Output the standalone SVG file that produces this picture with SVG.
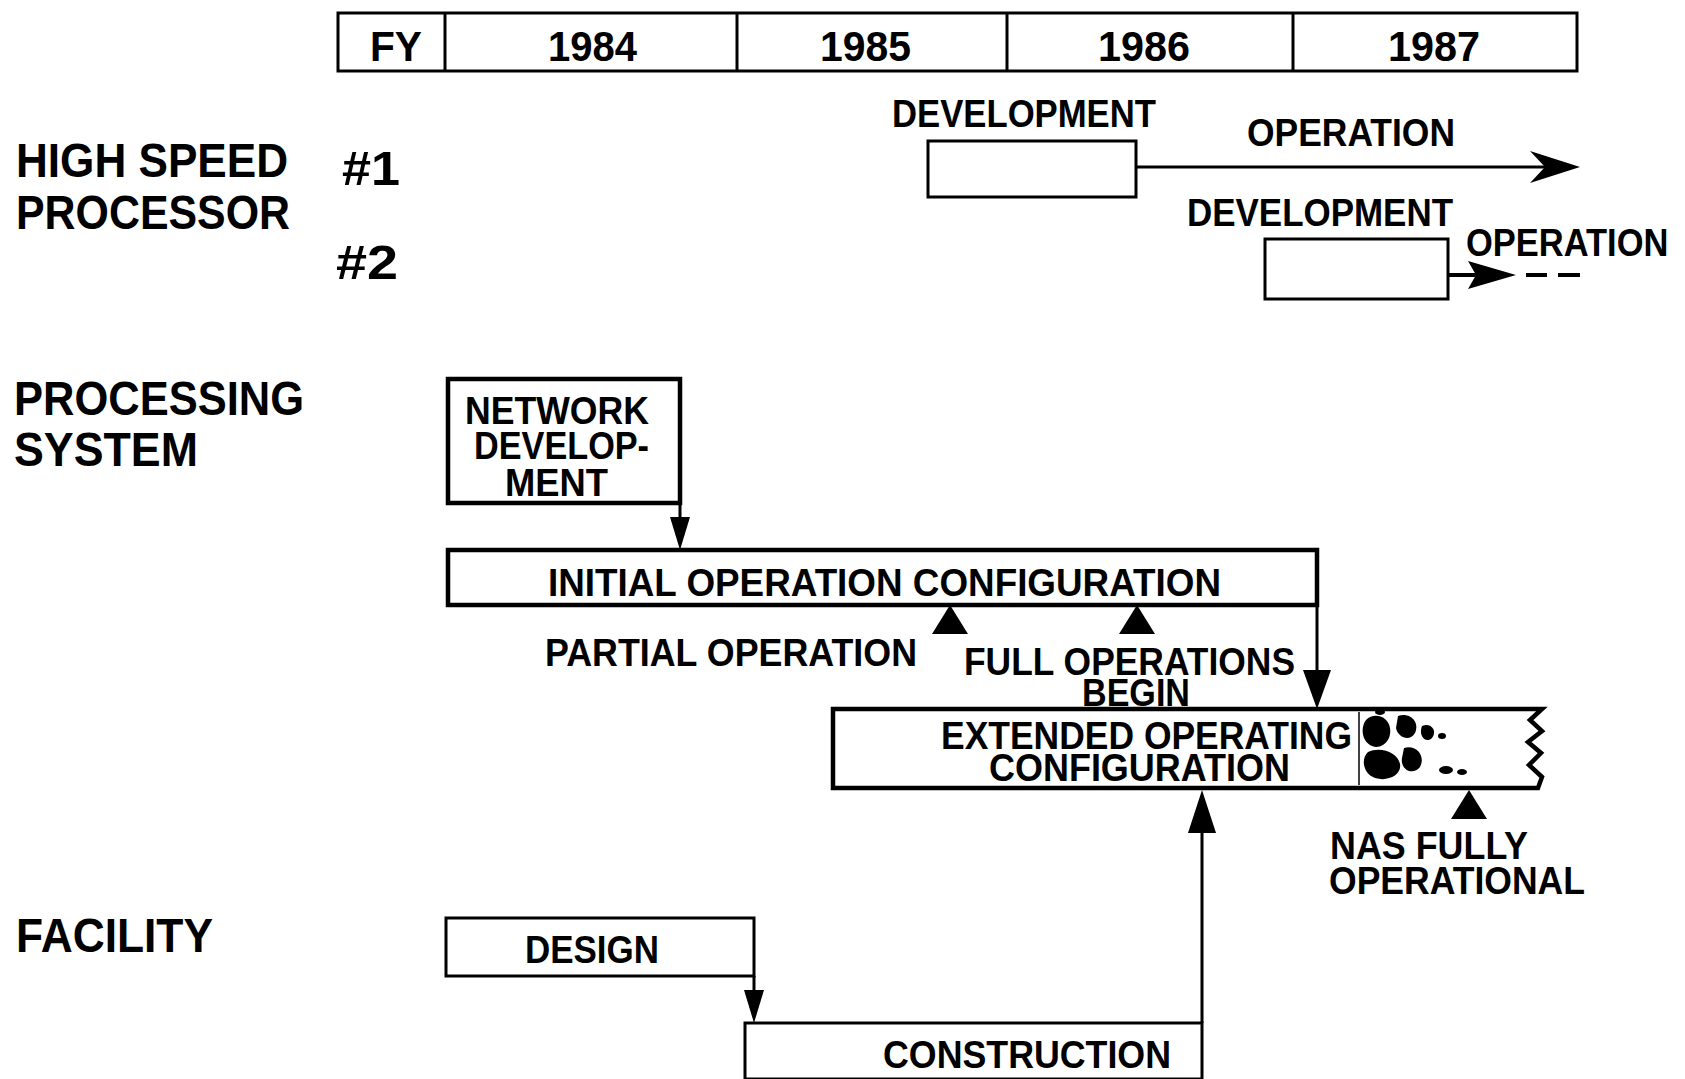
<svg xmlns="http://www.w3.org/2000/svg" width="1685" height="1079" viewBox="0 0 1685 1079">
  <style>
    .bg { fill: #ffffff; }
    .box { fill: #ffffff; stroke: #000; stroke-width: 3; }
    .thick { fill: #ffffff; stroke: #000; stroke-width: 4.5; }
    .line { fill: none; stroke: #000; stroke-width: 3; }
    .head { fill: #000; stroke: none; }
    .t { font-family: "Liberation Sans", Arial, sans-serif; font-weight: bold; fill: #000; }
    .row { font-size: 49px; }
    .lab { font-size: 39px; }
    .yr { font-size: 43px; }
  </style>
  <rect class="bg" x="0" y="0" width="1685" height="1079"/>

  <!-- fiscal-year header -->
  <g id="fy-header">
    <rect class="box" x="338" y="13" width="1239" height="58"/>
    <line class="line" x1="445" y1="13" x2="445" y2="71"/>
    <line class="line" x1="737" y1="13" x2="737" y2="71"/>
    <line class="line" x1="1007" y1="13" x2="1007" y2="71"/>
    <line class="line" x1="1293" y1="13" x2="1293" y2="71"/>
    <text class="t yr" x="370" y="61" textLength="52" lengthAdjust="spacingAndGlyphs">FY</text>
    <text class="t yr" x="548" y="61" textLength="89" lengthAdjust="spacingAndGlyphs">1984</text>
    <text class="t yr" x="820" y="61" textLength="91" lengthAdjust="spacingAndGlyphs">1985</text>
    <text class="t yr" x="1098" y="61" textLength="92" lengthAdjust="spacingAndGlyphs">1986</text>
    <text class="t yr" x="1388" y="61" textLength="92" lengthAdjust="spacingAndGlyphs">1987</text>
  </g>

  <!-- row titles -->
  <g id="row-titles">
    <text class="t row" x="16" y="177" textLength="272" lengthAdjust="spacingAndGlyphs">HIGH SPEED</text>
    <text class="t row" x="16" y="229" textLength="274" lengthAdjust="spacingAndGlyphs">PROCESSOR</text>
    <text class="t row" x="342" y="185" textLength="58" lengthAdjust="spacingAndGlyphs">#1</text>
    <text class="t row" x="336" y="279" textLength="62" lengthAdjust="spacingAndGlyphs">#2</text>
    <text class="t row" x="14" y="415" textLength="290" lengthAdjust="spacingAndGlyphs">PROCESSING</text>
    <text class="t row" x="14" y="466" textLength="184" lengthAdjust="spacingAndGlyphs">SYSTEM</text>
    <text class="t row" x="16" y="952" textLength="197" lengthAdjust="spacingAndGlyphs">FACILITY</text>
  </g>

  <!-- high speed processor #1 -->
  <g id="hsp1-development">
    <text class="t lab" x="892" y="127" textLength="264" lengthAdjust="spacingAndGlyphs">DEVELOPMENT</text>
    <rect class="box" x="928" y="141" width="208" height="56"/>
  </g>
  <g id="hsp1-operation">
    <text class="t lab" x="1247" y="146" textLength="208" lengthAdjust="spacingAndGlyphs">OPERATION</text>
  </g>

  <!-- high speed processor #2 -->
  <g id="hsp2-development">
    <text class="t lab" x="1187" y="226" textLength="266" lengthAdjust="spacingAndGlyphs">DEVELOPMENT</text>
    <rect class="box" x="1265" y="239" width="183" height="60"/>
  </g>
  <g id="hsp2-operation">
    <!-- narrowed with a horizontal scale so it stays inside the right edge -->
    <text class="t lab" transform="translate(1466,256) scale(0.884,1)" x="0" y="0">OPERATION</text>
  </g>

  <!-- processing system -->
  <g id="network-development">
    <rect class="thick" x="448" y="379" width="232" height="124"/>
    <text class="t lab" x="465" y="424" textLength="184" lengthAdjust="spacingAndGlyphs">NETWORK</text>
    <text class="t lab" x="474" y="459" textLength="175" lengthAdjust="spacingAndGlyphs">DEVELOP-</text>
    <text class="t lab" x="505" y="496" textLength="103" lengthAdjust="spacingAndGlyphs">MENT</text>
  </g>

  <g id="initial-operation-configuration">
    <rect class="thick" x="448" y="550" width="869" height="55"/>
    <text class="t lab" x="548" y="596" textLength="673" lengthAdjust="spacingAndGlyphs">INITIAL OPERATION  CONFIGURATION</text>
  </g>

  <g id="partial-operation">
    <polygon class="head" points="950,605 932,634 968,634"/>
    <text class="t lab" x="545" y="666" textLength="372" lengthAdjust="spacingAndGlyphs">PARTIAL OPERATION</text>
  </g>

  <g id="full-operations-begin">
    <polygon class="head" points="1137,605 1119,634 1155,634"/>
    <text class="t lab" x="964" y="675" textLength="331" lengthAdjust="spacingAndGlyphs">FULL OPERATIONS</text>
    <text class="t lab" x="1082" y="706" textLength="108" lengthAdjust="spacingAndGlyphs">BEGIN</text>
  </g>

  <g id="extended-operating-configuration">
    <path class="thick" d="M833,709 L1542,709 L1530,720 L1542,731 L1528,742 L1541,753 L1529,765 L1542,777 L1538,788 L833,788 Z"/>
    <!-- worn, ink-blotted patch at the right end of the bar -->
    <g class="head">
      <path d="M1366,720 C1374,712 1388,716 1390,728 C1392,740 1382,750 1372,746 C1362,742 1360,728 1366,720 Z"/>
      <path d="M1398,716 C1410,712 1420,722 1415,733 C1410,742 1398,738 1396,728 Z"/>
      <path d="M1368,752 C1380,746 1398,752 1400,764 C1402,775 1388,782 1375,778 C1364,774 1360,760 1368,752 Z"/>
      <path d="M1404,748 C1416,744 1426,756 1420,767 C1413,776 1400,770 1402,758 Z"/>
      <path d="M1422,726 C1430,722 1438,730 1432,738 C1426,744 1418,736 1422,726 Z"/>
      <ellipse cx="1446" cy="770" rx="7" ry="4"/>
      <ellipse cx="1462" cy="772" rx="5" ry="3"/>
      <ellipse cx="1442" cy="736" rx="4" ry="3"/>
      <ellipse cx="1380" cy="712" rx="5" ry="3"/>
    </g>
    <line class="line" x1="1359" y1="712" x2="1359" y2="785" style="stroke-width:1.5"/>
    <text class="t lab" x="941" y="749" textLength="411" lengthAdjust="spacingAndGlyphs">EXTENDED OPERATING</text>
    <text class="t lab" x="989" y="781" textLength="301" lengthAdjust="spacingAndGlyphs">CONFIGURATION</text>
  </g>

  <g id="nas-fully-operational">
    <polygon class="head" points="1469,790 1451,819 1487,819"/>
    <text class="t lab" x="1330" y="859" textLength="198" lengthAdjust="spacingAndGlyphs">NAS FULLY</text>
    <text class="t lab" x="1329" y="894" textLength="256" lengthAdjust="spacingAndGlyphs">OPERATIONAL</text>
  </g>

  <!-- facility -->
  <g id="design">
    <rect class="box" x="446" y="918" width="308" height="58"/>
    <text class="t lab" x="525" y="963" textLength="134" lengthAdjust="spacingAndGlyphs">DESIGN</text>
  </g>

  <g id="construction">
    <rect class="box" x="745" y="1023" width="457" height="56"/>
    <text class="t lab" x="883" y="1068" textLength="288" lengthAdjust="spacingAndGlyphs">CONSTRUCTION</text>
  </g>

  <!-- connectors -->
  <g id="connectors">
    <!-- #1 operation arrow -->
    <line class="line" x1="1136" y1="167" x2="1560" y2="167"/>
    <path class="head" d="M1580,167 L1530,151 L1545,167 L1530,183 Z"/>
    <!-- #2 operation arrow with dashed continuation -->
    <line class="line" x1="1448" y1="275" x2="1480" y2="275" style="stroke-width:4"/>
    <path class="head" d="M1516,275 L1468,261 L1476,275 L1468,289 Z"/>
    <line class="line" x1="1526" y1="275" x2="1547" y2="275" style="stroke-width:4"/>
    <line class="line" x1="1558" y1="275" x2="1580" y2="275" style="stroke-width:4"/>
    <!-- network development to initial configuration -->
    <line class="line" x1="680" y1="503" x2="680" y2="530"/>
    <polygon class="head" points="680,550 670,517 690,517"/>
    <!-- initial configuration to extended configuration -->
    <line class="line" x1="1317" y1="605" x2="1317" y2="680"/>
    <polygon class="head" points="1317,709 1303,670 1331,670"/>
    <!-- design to construction -->
    <line class="line" x1="754" y1="976" x2="754" y2="1000"/>
    <polygon class="head" points="754,1023 744,990 764,990"/>
    <!-- construction to extended configuration -->
    <line class="line" x1="1202" y1="1023" x2="1202" y2="820"/>
    <polygon class="head" points="1202,790 1188,833 1216,833"/>
  </g>
</svg>
